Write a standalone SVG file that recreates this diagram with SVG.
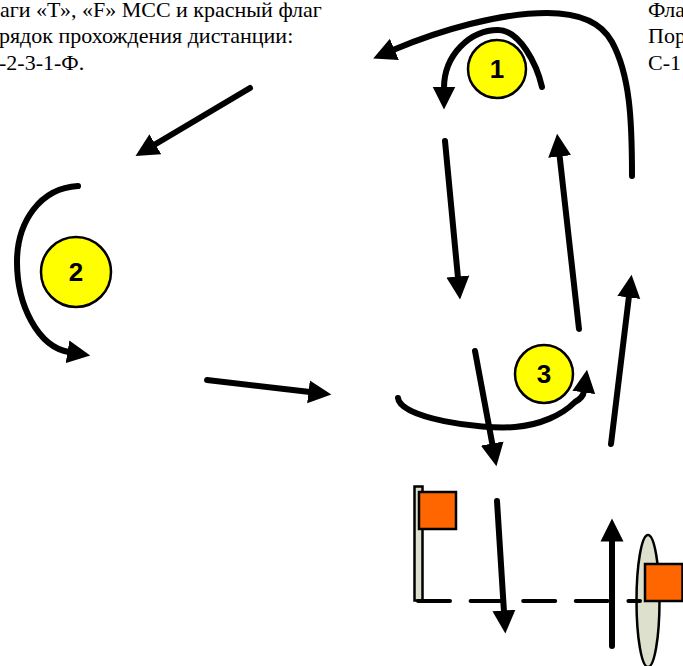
<svg xmlns="http://www.w3.org/2000/svg" width="683" height="666" viewBox="0 0 683 666">
<style>
.t{font-family:"Liberation Serif","Times New Roman",serif;font-size:22px;fill:#000}
.n{font-family:"Liberation Sans",Arial,sans-serif;font-size:26px;font-weight:bold;text-anchor:middle;fill:#000}
.c{fill:#ff0;stroke:#000;stroke-width:2.500}
.a{fill:none;stroke:#000;stroke-width:6;stroke-linecap:round;marker-end:url(#h)}
.f{fill:#f60;stroke:#000;stroke-width:2.500}
.p{fill:#dde0cc;stroke:#000;stroke-width:2.500}
</style>
<defs>
<marker id="h" markerUnits="userSpaceOnUse" markerWidth="24" markerHeight="24" refX="1.500" refY="12" orient="auto" viewBox="0 0 24 24">
<path d="M0 0.500 L23 12 L0 23.500Z" fill="#000"/>
</marker>
</defs>
<rect width="683" height="666" fill="#fff"/>
<g id="text-left">
<text class="t" x="0" y="17">аги «Т», «F» МСС и красный флаг</text>
<text class="t" x="-1" y="43">рядок прохождения дистанции:</text>
<text class="t" x="-1" y="70">-2-3-1-Ф.</text>
</g>
<g id="text-right">
<text class="t" x="648" y="17">Фла</text>
<text class="t" x="648" y="43">Пор</text>
<text class="t" x="648" y="70">С-1</text>
</g>
<g id="node-1"><circle class="c" cx="497" cy="69" r="29"/><text class="n" x="497" y="78">1</text></g>
<g id="node-2"><circle class="c" cx="76" cy="272" r="35"/><text class="n" x="76" y="281">2</text></g>
<g id="node-3"><circle class="c" cx="544" cy="374" r="29"/><text class="n" x="544" y="383">3</text></g>
<g id="flag-left">
<rect class="p" x="414.500" y="486.500" width="8" height="114"/>
<rect class="f" x="419" y="492" width="37" height="37"/>
</g>
<g id="flag-right">
<ellipse class="p" cx="648" cy="601" rx="11.500" ry="66"/>
</g>
<g id="connectors">
<path d="M418 601H640" fill="none" stroke="#000" stroke-width="4" stroke-linecap="round" stroke-dasharray="32 20.600"/>
<path class="a" d="M250 88L154 145"/>
<path class="a" d="M445 141L458 278"/>
<path class="a" d="M579 329L559.500 155"/>
<path class="a" d="M632 176C632 120 630 75 612 42C600 20 575 13 547 13C500 13 440 30 393 50"/>
<path class="a" d="M542 87C537 65 520 30 498 30C470 30 444 55 444 88"/>
<path class="a" d="M78 186C40 188 17 222 17 262C17 305 38 347 69 352"/>
<path class="a" d="M207 380L310 392"/>
<path class="a" d="M475 351L492.500 445"/>
<path class="a" d="M398 398C400 418 480 430 515 427C540 425 562 415 575 402Q583 398 584 391"/>
<path class="a" d="M611 444L629 296"/>
<path class="a" d="M497 501L504 612"/>
<path class="a" d="M612 646V540"/>
</g>
<g id="flag-right-banner"><rect class="f" x="645" y="564" width="37.500" height="37"/></g>
</svg>
